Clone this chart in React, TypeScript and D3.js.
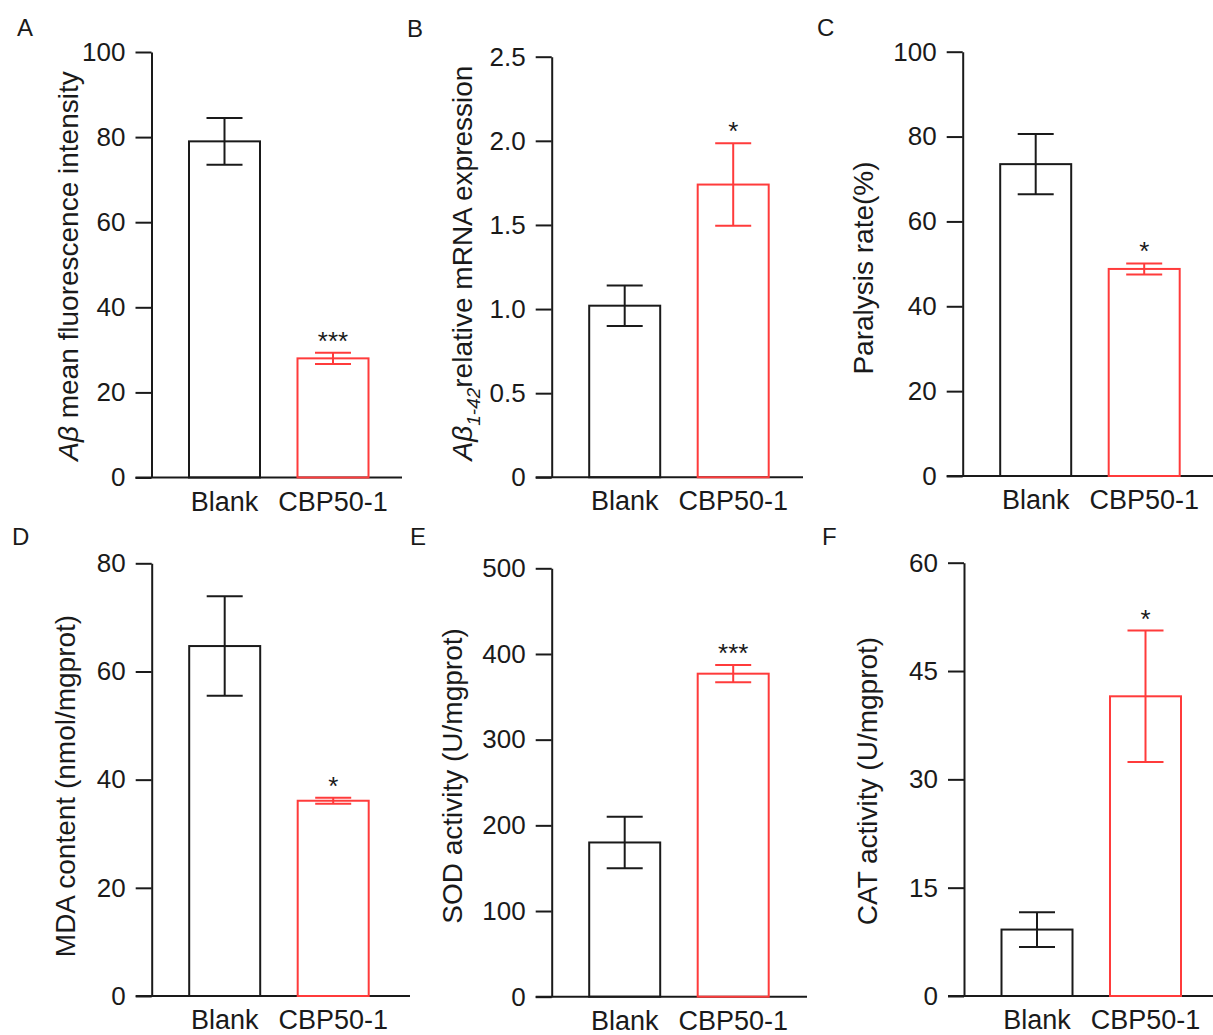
import React, { useEffect, useRef } from "react";
import * as d3 from "d3";

// ---- Data ----
const categories = ["Blank", "CBP50-1"];
const panelLetters = ["A", "B", "C", "D", "E", "F"];

const meansA = [79, 28];
const errsA = [5.5, 1.3];
const sigA = ["", "***"];
const ticksA = [0, 20, 40, 60, 80, 100];

const meansB = [1.02, 1.74];
const errsB = [0.12, 0.245];
const sigB = ["", "*"];
const ticksB = [0, 0.5, 1.0, 1.5, 2.0, 2.5];

const meansC = [73.5, 48.8];
const errsC = [7.1, 1.3];
const sigC = ["", "*"];
const ticksC = [0, 20, 40, 60, 80, 100];

const meansD = [64.7, 36.1];
const errsD = [9.2, 0.55];
const sigD = ["", "*"];
const ticksD = [0, 20, 40, 60, 80];

const meansE = [180, 377];
const errsE = [30, 10];
const sigE = ["", "***"];
const ticksE = [0, 100, 200, 300, 400, 500];

const meansF = [9.2, 41.5];
const errsF = [2.4, 9.1];
const sigF = ["", "*"];
const ticksF = [0, 15, 30, 45, 60];

const seriesMeans = [meansA, meansB, meansC, meansD, meansE, meansF];
const seriesErrs = [errsA, errsB, errsC, errsD, errsE, errsF];
const seriesSig = [sigA, sigB, sigC, sigD, sigE, sigF];
const seriesTicks = [ticksA, ticksB, ticksC, ticksD, ticksE, ticksF];

// ---- Layout (positions only) ----
const layout = [
  { axisX: 151.5, top: 52, bottom: 477.5, right: 402, titleX: 78, titleY: 266, letterX: 17, letterY: 36 },
  { axisX: 551.7, top: 56.7, bottom: 477.3, right: 803, titleX: 472, titleY: 263, letterX: 407, letterY: 37 },
  { axisX: 962.7, top: 51.7, bottom: 476, right: 1213, titleX: 873, titleY: 268, letterX: 817, letterY: 36 },
  { axisX: 151.7, top: 563.3, bottom: 996, right: 410, titleX: 75, titleY: 786, letterX: 12, letterY: 545 },
  { axisX: 551.7, top: 568.3, bottom: 996.7, right: 807, titleX: 462, titleY: 776, letterX: 410, letterY: 545 },
  { axisX: 964, top: 562.7, bottom: 996, right: 1213, titleX: 877, titleY: 781, letterX: 822, letterY: 545 },
];

const FONT = "'Liberation Sans', Arial, Helvetica, sans-serif";
const colors = ["#1a1a1a", "#ff3b3b"];
const BAR_W = 71;
const GAP = 37.5;

export default function App() {
  const ref = useRef<SVGSVGElement | null>(null);

  useEffect(() => {
    document.body.style.margin = "0";
    const svg = d3.select(ref.current);
    svg.selectAll("*").remove();
    svg.append("rect").attr("width", 1213).attr("height", 1035).attr("fill", "#fff");

    layout.forEach((L, i) => {
      const means = seriesMeans[i];
      const errs = seriesErrs[i];
      const sig = seriesSig[i];
      const ticks = seriesTicks[i];
      const yMax = ticks[ticks.length - 1];
      const g = svg.append("g");

      const y = d3.scaleLinear().domain([0, yMax]).range([L.bottom, L.top]);
      const x0 = L.axisX + 37.5;
      const x = d3
        .scaleBand<string>()
        .domain(categories)
        .range([x0, x0 + 2 * BAR_W + GAP])
        .paddingInner(GAP / (BAR_W + GAP))
        .paddingOuter(0);

      const fmt = i === 1 ? (d: any) => (d === 0 ? "0" : d3.format(".1f")(d)) : (d: any) => String(d);

      const ax = g
        .append("g")
        .attr("transform", `translate(${L.axisX},0)`)
        .call(
          d3
            .axisLeft(y)
            .tickValues(ticks)
            .tickSize(16)
            .tickSizeOuter(0)
            .tickPadding(10)
            .tickFormat(fmt as any)
        );
      ax.attr("font-size", 26).attr("font-family", FONT);
      ax.selectAll("path,line").attr("stroke", "#1a1a1a").attr("stroke-width", 2);
      ax.selectAll("text").attr("fill", "#1a1a1a");

      // x axis baseline
      g.append("line")
        .attr("x1", L.axisX - 16)
        .attr("x2", L.right)
        .attr("y1", y(0))
        .attr("y2", y(0))
        .attr("stroke", "#1a1a1a")
        .attr("stroke-width", 2);

      categories.forEach((c, k) => {
        const bx = x(c)!;
        const cx = bx + x.bandwidth() / 2;
        const col = colors[k];
        g.append("rect")
          .attr("x", bx)
          .attr("y", y(means[k]))
          .attr("width", x.bandwidth())
          .attr("height", y(0) - y(means[k]))
          .attr("fill", "none")
          .attr("stroke", col)
          .attr("stroke-width", 2);
        const hi = y(means[k] + errs[k]);
        const lo = y(means[k] - errs[k]);
        g.append("line").attr("x1", cx).attr("x2", cx).attr("y1", hi).attr("y2", lo)
          .attr("stroke", col).attr("stroke-width", 2);
        [hi, lo].forEach((yy) => {
          g.append("line").attr("x1", cx - 18).attr("x2", cx + 18).attr("y1", yy).attr("y2", yy)
            .attr("stroke", col).attr("stroke-width", 2);
        });
        if (sig[k]) {
          g.append("text")
            .attr("x", cx)
            .attr("y", hi - 3)
            .attr("text-anchor", "middle")
            .attr("font-family", FONT)
            .attr("font-size", 26)
            .attr("fill", "#1a1a1a")
            .text(sig[k]);
        }
        g.append("text")
          .attr("x", cx)
          .attr("y", y(0) + 33)
          .attr("text-anchor", "middle")
          .attr("font-family", FONT)
          .attr("font-size", 27)
          .attr("fill", "#1a1a1a")
          .text(c);
      });

      // y title
      const t = g
        .append("text")
        .attr("transform", `translate(${L.titleX},${L.titleY}) rotate(-90)`)
        .attr("text-anchor", "middle")
        .attr("font-family", FONT)
        .attr("font-size", 28)
        .attr("fill", "#1a1a1a");
      if (i === 0) {
        t.append("tspan").attr("font-style", "italic").text("Aβ");
        t.append("tspan").text(" mean fluorescence intensity");
      } else if (i === 1) {
        t.append("tspan").attr("font-style", "italic").text("Aβ");
        t.append("tspan").attr("font-style", "italic").attr("font-size", 19).attr("dy", 8).text("1-42");
        t.append("tspan").attr("dy", -8).text("relative mRNA expression");
      } else if (i === 2) {
        t.text("Paralysis rate(%)");
      } else if (i === 3) {
        t.text("MDA content (nmol/mgprot)");
      } else if (i === 4) {
        t.text("SOD activity (U/mgprot)");
      } else {
        t.text("CAT activity (U/mgprot)");
      }

      g.append("text")
        .attr("x", L.letterX)
        .attr("y", L.letterY)
        .attr("font-family", FONT)
        .attr("font-size", 24)
        .attr("fill", "#1a1a1a")
        .text(panelLetters[i]);
    });
  }, []);

  return (
    <svg
      ref={ref}
      width={1213}
      height={1035}
      style={{ position: "absolute", left: 0, top: 0, display: "block" }}
    />
  );
}
